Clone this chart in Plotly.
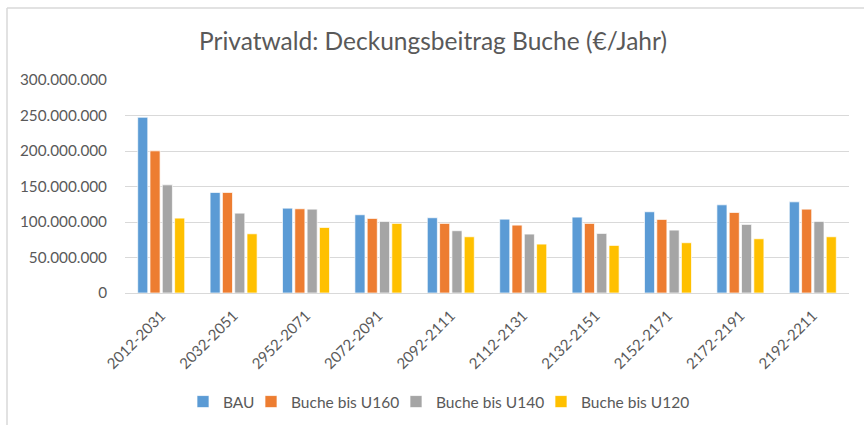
import plotly.graph_objects as go

categories = ["2012-2031", "2032-2051", "2952-2071", "2072-2091", "2092-2111",
              "2112-2131", "2132-2151", "2152-2171", "2172-2191", "2192-2211"]
bau =  [247.5e6, 141.6e6, 119.5e6, 110.2e6, 106.0e6, 104.0e6, 106.9e6, 114.4e6, 124.2e6, 128.4e6]
u160 = [200.2e6, 141.6e6, 118.6e6, 105.0e6, 98.0e6, 95.6e6, 98.0e6, 103.6e6, 113.4e6, 118.1e6]
u140 = [152.3e6, 112.5e6, 118.1e6, 100.8e6, 87.7e6, 83.0e6, 83.9e6, 88.6e6, 96.6e6, 100.8e6]
u120 = [105.5e6, 83.4e6, 92.3e6, 98.0e6, 79.2e6, 68.9e6, 67.0e6, 70.8e6, 76.4e6, 79.2e6]
series_names = ["BAU", "Buche bis U160", "Buche bis U140", "Buche bis U120"]
colors = ["#5B9BD5", "#ED7D31", "#A5A5A5", "#FFC000"]
legend_widths = [23, 100, 100, 110]
y_ticks = [0, 50e6, 100e6, 150e6, 200e6, 250e6, 300e6]

FONT = "Lato"
fig = go.Figure()
for name, vals, col, lw in zip(series_names, [bau, u160, u140, u120], colors, legend_widths):
    fig.add_trace(go.Bar(x=categories, y=vals, name=name, legendwidth=lw,
                         marker=dict(color=col, line=dict(color="white", width=0.7))))

W, H = 864, 425
L, R, T, B = 125, 15, 80, 132
pw, ph = W - L - R, H - T - B

def px2x(p):
    return (p - L) / pw

def py2y(p):
    return (H - B - p) / ph

fig.update_layout(
    width=W, height=H,
    margin=dict(l=L, r=R, t=T, b=B, autoexpand=False),
    paper_bgcolor="white", plot_bgcolor="white",
    separators=",.",
    barmode="group", bargap=0.32, bargroupgap=0.18,
    font=dict(family=FONT, color="#595959"),
    title=dict(text="Privatwald: Deckungsbeitrag Buche (€/Jahr)",
               x=433 / W, xanchor="center", y=1 - 41 / H, yanchor="middle",
               font=dict(size=24.5, color="#595959", family=FONT)),
    showlegend=True,
    legend=dict(orientation="h", x=px2x(183), xanchor="left", y=py2y(402), yanchor="middle",
                font=dict(size=15.5, color="#595959", family=FONT), itemwidth=30,
                traceorder="normal"),
    shapes=[
        dict(type="line", xref="paper", yref="paper", x0=px2x(7), x1=px2x(864),
             y0=py2y(8), y1=py2y(8), line=dict(color="#D9D9D9", width=1.5)),
        dict(type="line", xref="paper", yref="paper", x0=px2x(7), x1=px2x(7),
             y0=py2y(8), y1=py2y(425), line=dict(color="#D9D9D9", width=1.5)),
    ],
)
fig.update_yaxes(range=[0, 300e6], tickvals=y_ticks, tickformat=",d", automargin=False,
                 showgrid=True, gridcolor="#D9D9D9", gridwidth=1,
                 zeroline=True, zerolinecolor="#D9D9D9", zerolinewidth=1,
                 showline=False, ticks="", ticklabelstandoff=17,
                 tickfont=dict(size=15.3, color="#595959", family=FONT))
fig.update_xaxes(tickangle=-45, showline=False, ticks="", showgrid=False, automargin=False,
                 ticklabelstandoff=10,
                 tickfont=dict(size=15, color="#595959", family=FONT))

fig.write_html("out.html", config={"displayModeBar": False},
               post_script="document.body.style.margin='0';document.body.style.overflow='hidden';")
